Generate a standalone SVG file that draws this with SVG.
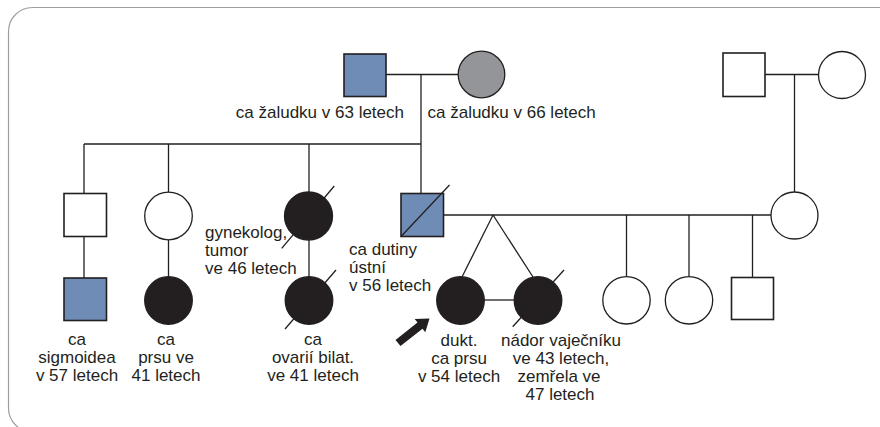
<svg xmlns="http://www.w3.org/2000/svg" width="880" height="427" viewBox="0 0 880 427">
  <style>
    .ln { stroke: #231f20; stroke-width: 1.3; fill: none; }
    .sq { stroke: #231f20; stroke-width: 1.6; }
    .ci { stroke: #231f20; stroke-width: 1.3; }
    .open { fill: #ffffff; }
    .blue { fill: #6f8cb6; }
    .grey { fill: #939598; }
    .aff { fill: #231f20; }
    .txt { font-family: "Liberation Sans", Arial, sans-serif; font-size: 17px; fill: #231f20; }
    .mid { text-anchor: middle; }
    .end { text-anchor: end; }
  </style>

  <!-- frame -->
  <rect x="8.5" y="7.5" width="900" height="424.5" rx="24" ry="24" fill="#ffffff" stroke="#9d9d9d" stroke-width="1.2"/>

  <!-- connectors -->
  <g id="connectors" class="ln">
    <!-- left grandparents -->
    <line x1="386" y1="74.5" x2="458" y2="74.5"/>
    <line x1="421" y1="74.5" x2="421" y2="144"/>
    <line x1="84" y1="144" x2="421" y2="144"/>
    <line x1="84" y1="144" x2="84" y2="193.5"/>
    <line x1="168.5" y1="144" x2="168.5" y2="192"/>
    <line x1="309" y1="144" x2="309" y2="192"/>
    <line x1="421" y1="144" x2="421" y2="193.5"/>
    <!-- right grandparents -->
    <line x1="765" y1="74.5" x2="818.5" y2="74.5"/>
    <line x1="794.5" y1="74.5" x2="794.5" y2="192"/>
    <!-- parents -->
    <line x1="443" y1="215" x2="771" y2="215"/>
    <line x1="493" y1="215" x2="462" y2="277"/>
    <line x1="493" y1="215" x2="533" y2="277"/>
    <line x1="484" y1="300" x2="514" y2="300"/>
    <line x1="626.5" y1="215" x2="626.5" y2="276.5"/>
    <line x1="689" y1="215" x2="689" y2="276.5"/>
    <line x1="752.5" y1="215" x2="752.5" y2="277.5"/>
    <!-- lines down to grandchildren of the left branch -->
    <line x1="84" y1="236.5" x2="84" y2="278"/>
    <line x1="168.5" y1="230" x2="168.5" y2="276.5"/>
    <line x1="309" y1="240" x2="309" y2="276.5"/>
  </g>

  <!-- generation I -->
  <g id="grandfather-left">
    <rect class="sq blue" x="344" y="54" width="42" height="42.5"/>
    <text class="txt end" x="404" y="118">ca žaludku v 63 letech</text>
  </g>
  <g id="grandmother-left">
    <circle class="ci grey" cx="481.5" cy="74.5" r="23.3"/>
    <text class="txt" x="427.5" y="118">ca žaludku v 66 letech</text>
  </g>
  <g id="grandfather-right">
    <rect class="sq open" x="723" y="53" width="42" height="43.5" stroke-width="1.2"/>
  </g>
  <g id="grandmother-right">
    <circle class="ci open" cx="842" cy="75" r="23.5"/>
  </g>

  <!-- generation II -->
  <g id="uncle">
    <rect class="sq open" x="64" y="193.5" width="42.5" height="43" stroke-width="2"/>
  </g>
  <g id="aunt">
    <circle class="ci open" cx="168.5" cy="216" r="23.8"/>
  </g>
  <g id="aunt-deceased">
    <circle class="ci aff" cx="308.5" cy="216" r="24"/>
    <line class="ln" x1="281.7" y1="248.3" x2="334.3" y2="186"/>
    <text class="txt" x="205" y="238">gynekolog,</text>
    <text class="txt" x="205" y="256">tumor</text>
    <text class="txt" x="205" y="274">ve 46 letech</text>
  </g>
  <g id="father">
    <rect class="sq blue" x="401" y="193.5" width="42.5" height="43"/>
    <line class="ln" x1="401" y1="236.5" x2="449.5" y2="185"/>
    <text class="txt" x="349" y="255">ca dutiny</text>
    <text class="txt" x="349" y="273">ústní</text>
    <text class="txt" x="349" y="291">v 56 letech</text>
  </g>
  <g id="mother">
    <circle class="ci open" cx="794.5" cy="215.5" r="23.5"/>
  </g>

  <!-- generation III -->
  <g id="cousin-sigmoid">
    <rect class="sq blue" x="64" y="278" width="42.5" height="42.5" stroke-width="2"/>
    <text class="txt mid" x="77" y="345">ca</text>
    <text class="txt mid" x="77" y="363">sigmoidea</text>
    <text class="txt mid" x="77" y="381">v 57 letech</text>
  </g>
  <g id="cousin-breast">
    <circle class="ci aff" cx="168.5" cy="300.5" r="23.8"/>
    <text class="txt mid" x="166" y="345">ca</text>
    <text class="txt mid" x="166" y="363">prsu ve</text>
    <text class="txt mid" x="166" y="381">41 letech</text>
  </g>
  <g id="cousin-ovary">
    <circle class="ci aff" cx="309" cy="300.5" r="23.8"/>
    <line class="ln" x1="285" y1="329" x2="336" y2="270"/>
    <text class="txt mid" x="313" y="345">ca</text>
    <text class="txt mid" x="313" y="363">ovarií bilat.</text>
    <text class="txt mid" x="313" y="381">ve 41 letech</text>
  </g>
  <g id="proband">
    <circle class="ci aff" cx="460.5" cy="300.5" r="23.8"/>
    <polygon fill="#231f20" points="395.5,339.9 417.5,322.5 414.7,318.9 429.5,318.5 425.3,332.3 422.5,328.7 400.5,346.1"/>
    <text class="txt mid" x="459" y="346">dukt.</text>
    <text class="txt mid" x="459" y="364">ca prsu</text>
    <text class="txt mid" x="459" y="382">v 54 letech</text>
  </g>
  <g id="twin-sister">
    <circle class="ci aff" cx="538" cy="300.5" r="23.8"/>
    <line class="ln" x1="512.7" y1="326.7" x2="564" y2="270"/>
    <text class="txt mid" x="561" y="346">nádor vaječníku</text>
    <text class="txt mid" x="561" y="364">ve 43 letech,</text>
    <text class="txt mid" x="559" y="382">zemřela ve</text>
    <text class="txt mid" x="560" y="400">47 letech</text>
  </g>
  <g id="sister-1">
    <circle class="ci open" cx="626.5" cy="300.3" r="23.7"/>
  </g>
  <g id="sister-2">
    <circle class="ci open" cx="689" cy="300.3" r="23.7"/>
  </g>
  <g id="brother">
    <rect class="sq open" x="731.5" y="277.5" width="42" height="42" stroke-width="1.2"/>
  </g>
</svg>
